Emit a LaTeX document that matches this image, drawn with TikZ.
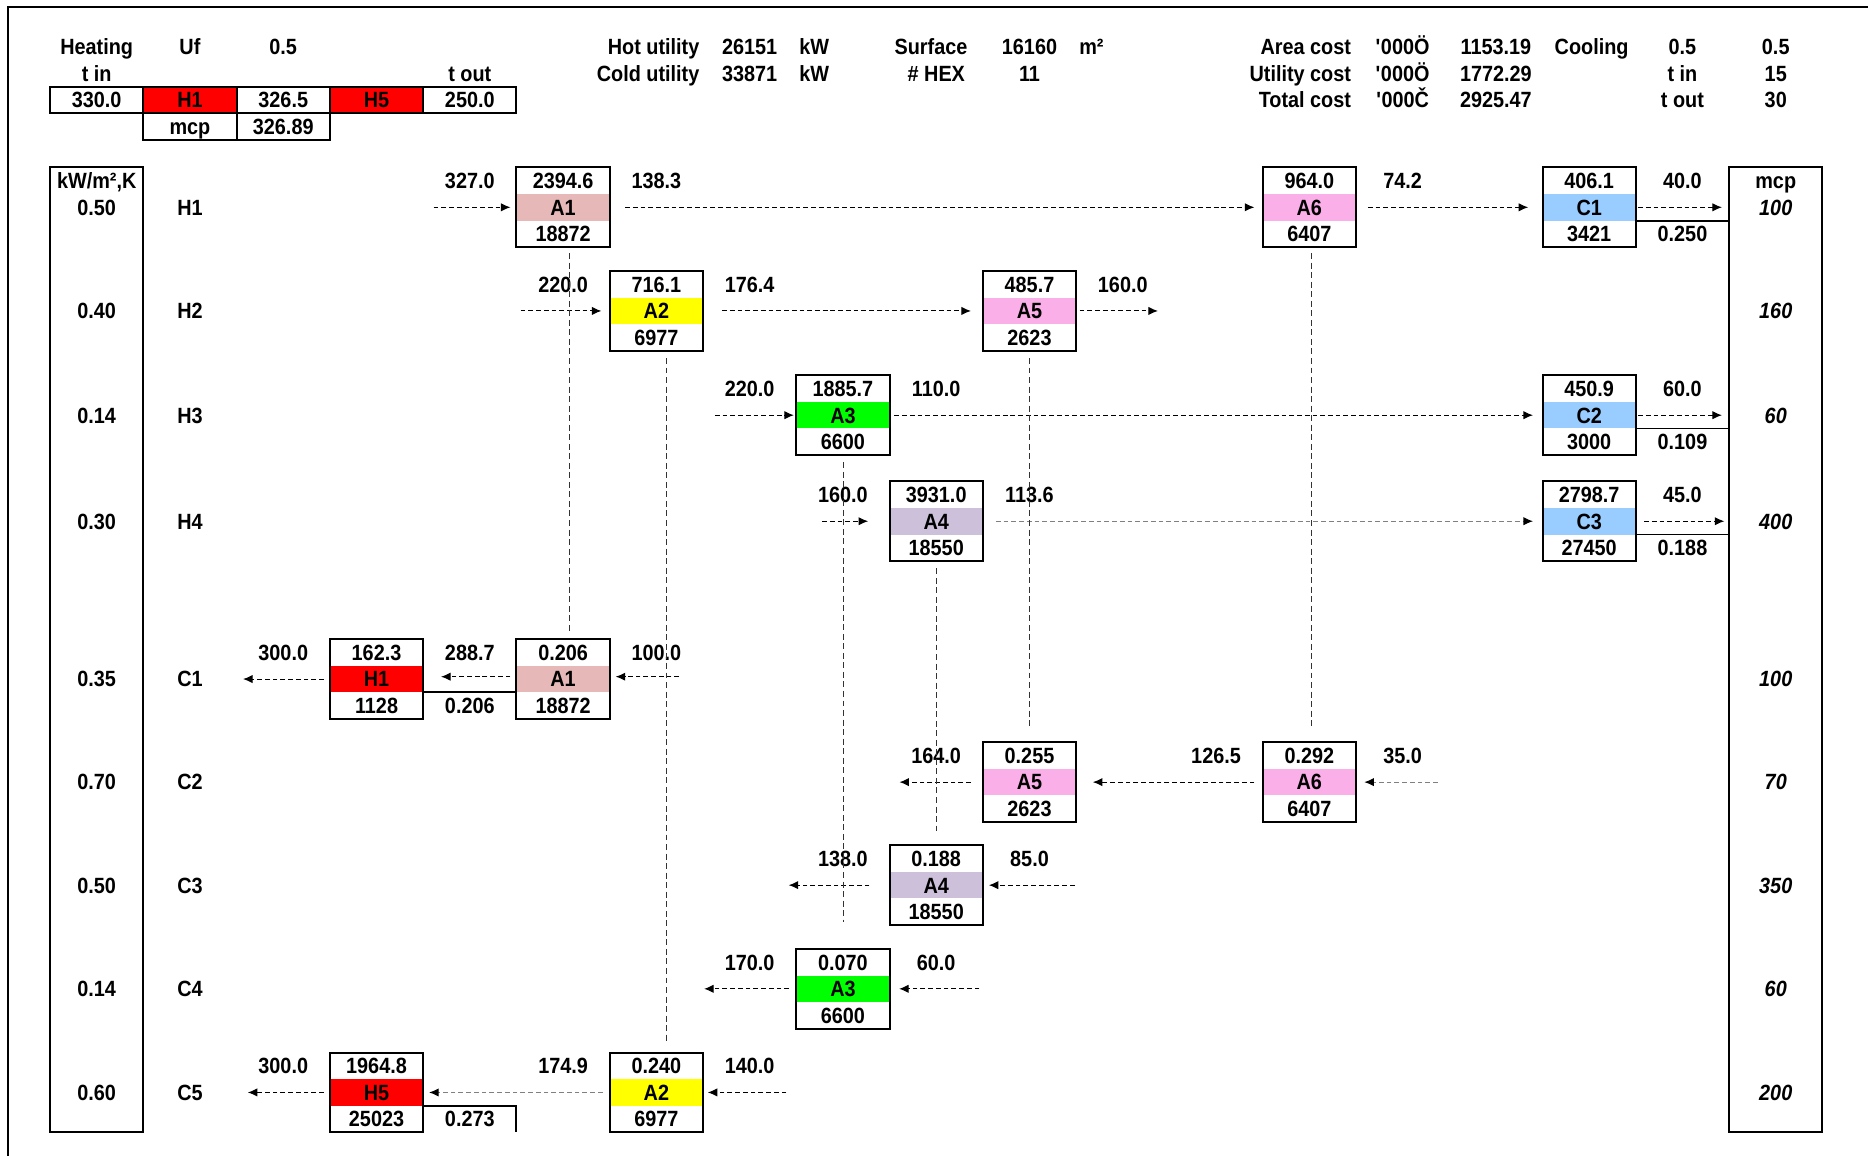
\documentclass[tikz,border=0pt]{standalone}
\usepackage{fontspec}
\setmainfont{Liberation Sans}[FakeStretch=0.9]
\usetikzlibrary{arrows.meta,calc}
\definecolor{cA1}{RGB}{230,184,183}
\definecolor{cA2}{RGB}{255,255,0}
\definecolor{cA3}{RGB}{0,255,0}
\definecolor{cA4}{RGB}{204,192,218}
\definecolor{cA5}{RGB}{250,175,232}
\definecolor{cC}{RGB}{153,204,255}
\definecolor{cH}{RGB}{255,0,0}
\tikzset{
 lbl/.style={font=\fontsize{18.5}{18.5}\selectfont\bfseries, inner sep=0pt, outer sep=0pt, text height=13.2pt, text depth=0pt},
 ilbl/.style={lbl, font=\fontsize{18.5}{18.5}\selectfont\bfseries\itshape},
 hxb/.style={draw, line width=1.6pt, minimum width=78.3pt, minimum height=67pt, inner sep=0pt, outer sep=0pt},
 cell/.style={lbl, draw, line width=1.6pt, minimum width=78.3pt, minimum height=22.3pt},
 colbox/.style={draw, line width=1.6pt, minimum width=78.3pt, minimum height=810pt, inner sep=0pt, outer sep=0pt},
 flow/.style={dash pattern=on 4pt off 2.5pt, line width=0.9pt, -{Latex[length=8pt,width=7pt]}},
 gflow/.style={dash pattern=on 4pt off 2.5pt, line width=0.9pt, draw=black!50, -{Latex[length=8pt,width=7pt,color=black]}},
 link/.style={dash pattern=on 5pt off 3pt, line width=0.6pt, draw=black!80},
 solidl/.style={line width=1.6pt},
}
\newcommand\exch[7]{%
  \fill[#7] ({#2-39.15},{#3-11.15}) rectangle ({#2+39.15},{#3+11.15});
  \node[hxb] (#1) at (#2,#3) {};
  \node[lbl] (#1t) at (#2,{#3-22.3}) {#4};
  \node[lbl] (#1m) at (#2,#3) {#5};
  \node[lbl] (#1b) at (#2,{#3+22.3}) {#6};
}
\begin{document}
\begin{tikzpicture}[x=1pt,y=-1pt]
\useasboundingbox (0,0) rectangle (1568,970);
\draw[line width=1.7pt] (6.5,975) -- (6.5,6) -- (1575,6);

% ---------- header ----------
\node[lbl] (hHeat) at (81.15,39) {Heating};
\node[lbl] (hUf) at (159.45,39) {Uf};
\node[lbl] (hUfv) at (237.75,39) {0.5};
\node[lbl] (hTin) at (81.15,61.5) {t in};
\node[lbl] (hTout) at (394.35,61.5) {t out};
\node[cell] (hc1) at (81.15,84) {330.0};
\node[cell, fill=cH] (hc2) at (159.45,84) {H1};
\node[cell] (hc3) at (237.75,84) {326.5};
\node[cell, fill=cH] (hc4) at (316.05,84) {H5};
\node[cell] (hc5) at (394.35,84) {250.0};
\node[cell] (hc6) at (159.45,106.3) {mcp};
\node[cell] (hc7) at (237.75,106.3) {326.89};

\node[lbl, anchor=east] (hHot) at (587,39) {Hot utility};
\node[lbl, anchor=east] (hCold) at (587,61.5) {Cold utility};
\node[lbl] (hHotv) at (629.25,39) {26151};
\node[lbl] (hColdv) at (629.25,61.5) {33871};
\node[lbl, anchor=west] (hkw1) at (671,39) {kW};
\node[lbl, anchor=west] (hkw2) at (671,61.5) {kW};
\node[lbl, anchor=east] (hSurf) at (812,39) {Surface};
\node[lbl, anchor=east] (hHex) at (810,61.5) {\# HEX};
\node[lbl] (hSurfv) at (864.15,39) {16160};
\node[lbl] (hHexv) at (864.15,61.5) {11};
\node[lbl, anchor=west] (hm2) at (906,39) {m²};
\node[lbl, anchor=east] (hArea) at (1134,39) {Area cost};
\node[lbl, anchor=east] (hUtil) at (1134,61.5) {Utility cost};
\node[lbl, anchor=east] (hTot) at (1134,84) {Total cost};
\node[lbl] (hu1) at (1177.35,39) {\textquotesingle 000Ö};
\node[lbl] (hu2) at (1177.35,61.5) {\textquotesingle 000Ö};
\node[lbl] (hu3) at (1177.35,84) {\textquotesingle 000Č};
\node[lbl] (hAreav) at (1255.65,39) {1153.19};
\node[lbl] (hUtilv) at (1255.65,61.5) {1772.29};
\node[lbl] (hTotv) at (1255.65,84) {2925.47};
\node[lbl] (hCool) at (1336,39) {Cooling};
\node[lbl] (hCo1) at (1412.25,39) {0.5};
\node[lbl] (hCo2) at (1412.25,61.5) {t in};
\node[lbl] (hCo3) at (1412.25,84) {t out};
\node[lbl] (hCo4) at (1490.55,39) {0.5};
\node[lbl] (hCo5) at (1490.55,61.5) {15};
\node[lbl] (hCo6) at (1490.55,84) {30};

% ---------- side columns ----------
\node[colbox] (lcol) at (81.15,545) {};
\node[colbox] (rcol) at (1490.55,545) {};
\node[lbl] (lhead) at (81.15,151.7) {kW/m²,K};
\node[lbl] (rhead) at (1490.55,151.7) {mcp};
\foreach \n/\yy/\u/\m in {H1/174/0.50/100, H2/261/0.40/160, H3/348.5/0.14/60, H4/437.5/0.30/400,
  C1/570/0.35/100, C2/656.5/0.70/70, C3/743/0.50/350, C4/830/0.14/60, C5/917/0.60/200}{
  \node[lbl] (u\n) at (81.15,\yy) {\u};
  \node[lbl] (s\n) at (159.45,\yy) {\n};
  \node[ilbl] (m\n) at (1490.55,\yy) {\m};
}

% ---------- exchangers ----------
\exch{A1h}{472.65}{174}{2394.6}{A1}{18872}{cA1}
\exch{A6h}{1099.05}{174}{964.0}{A6}{6407}{cA5}
\exch{C1c}{1333.95}{174}{406.1}{C1}{3421}{cC}
\exch{A2h}{550.95}{261}{716.1}{A2}{6977}{cA2}
\exch{A5h}{864.15}{261}{485.7}{A5}{2623}{cA5}
\exch{A3h}{707.55}{348.5}{1885.7}{A3}{6600}{cA3}
\exch{C2c}{1333.95}{348.5}{450.9}{C2}{3000}{cC}
\exch{A4h}{785.85}{437.5}{3931.0}{A4}{18550}{cA4}
\exch{C3c}{1333.95}{437.5}{2798.7}{C3}{27450}{cC}
\exch{H1c}{316.05}{570}{162.3}{H1}{1128}{cH}
\exch{A1c}{472.65}{570}{0.206}{A1}{18872}{cA1}
\exch{A5c}{864.15}{656.5}{0.255}{A5}{2623}{cA5}
\exch{A6c}{1099.05}{656.5}{0.292}{A6}{6407}{cA5}
\exch{A4c}{785.85}{743}{0.188}{A4}{18550}{cA4}
\exch{A3c}{707.55}{830}{0.070}{A3}{6600}{cA3}
\exch{H5c}{316.05}{917}{1964.8}{H5}{25023}{cH}
\exch{A2c}{550.95}{917}{0.240}{A2}{6977}{cA2}

% ---------- temperature labels ----------
\node[lbl] (t1) at (394.35,151.7) {327.0};
\node[lbl] (t2) at (550.95,151.7) {138.3};
\node[lbl] (t3) at (1177.35,151.7) {74.2};
\node[lbl] (t4) at (1412.25,151.7) {40.0};
\node[lbl] (t5) at (1412.25,196.3) {0.250};
\node[lbl] (t6) at (472.65,238.7) {220.0};
\node[lbl] (t7) at (629.25,238.7) {176.4};
\node[lbl] (t8) at (942.45,238.7) {160.0};
\node[lbl] (t9) at (629.25,326.2) {220.0};
\node[lbl] (t10) at (785.85,326.2) {110.0};
\node[lbl] (t11) at (1412.25,326.2) {60.0};
\node[lbl] (t12) at (1412.25,370.8) {0.109};
\node[lbl] (t13) at (707.55,415.2) {160.0};
\node[lbl] (t14) at (864.15,415.2) {113.6};
\node[lbl] (t15) at (1412.25,415.2) {45.0};
\node[lbl] (t16) at (1412.25,459.8) {0.188};
\node[lbl] (t17) at (237.75,547.7) {300.0};
\node[lbl] (t18) at (394.35,547.7) {288.7};
\node[lbl] (t19) at (550.95,547.7) {100.0};
\node[lbl] (t20) at (394.35,592.3) {0.206};
\node[lbl] (t21) at (785.85,634.2) {164.0};
\node[lbl] (t22) at (1020.75,634.2) {126.5};
\node[lbl] (t23) at (1177.35,634.2) {35.0};
\node[lbl] (t24) at (707.55,720.7) {138.0};
\node[lbl] (t25) at (864.15,720.7) {85.0};
\node[lbl] (t26) at (629.25,807.7) {170.0};
\node[lbl] (t27) at (785.85,807.7) {60.0};
\node[lbl] (t28) at (237.75,894.7) {300.0};
\node[lbl] (t29) at (472.65,894.7) {174.9};
\node[lbl] (t30) at (629.25,894.7) {140.0};
\node[lbl] (t31) at (394.35,939.3) {0.273};

% ---------- hot stream flows ----------
\coordinate (f1) at (364,174);
\draw[flow, shorten >=5pt] (f1) -- (A1h.west);
\draw[flow, shorten <=13pt, shorten >=7pt] (A1h.east) -- (A6h.west);
\draw[flow, shorten <=10pt, shorten >=12pt] (A6h.east) -- (C1c.west);
\draw[flow, shorten <=2pt, shorten >=6pt] (C1c.east) -- (C1c.east -| rcol.west);
\coordinate (f2) at (437,261);
\draw[flow, shorten >=7pt] (f2) -- (A2h.west);
\draw[flow, shorten <=16pt, shorten >=10pt] (A2h.east) -- (A5h.west);
\coordinate (f3) at (972,261);
\draw[flow, shorten <=3pt] (A5h.east) -- (f3);
\coordinate (f4) at (600,348.5);
\draw[flow, shorten >=2pt] (f4) -- (A3h.west);
\draw[flow, shorten <=4pt, shorten >=8pt] (A3h.east) -- (C2c.west);
\draw[flow, shorten <=2pt, shorten >=6pt] (C2c.east) -- (C2c.east -| rcol.west);
\coordinate (f5) at (690,437.5);
\draw[flow, shorten >=18pt] (f5) -- (A4h.west);
\draw[gflow, shorten <=11pt, shorten >=8pt] (A4h.east) -- (C3c.west);
\draw[flow, shorten <=7pt, shorten >=4pt] (C3c.east) -- (C3c.east -| rcol.west);

% ---------- cold stream flows ----------
\coordinate (f6) at (570,568);
\draw[flow, shorten >=5pt] (f6) -- (f6 -| A1c.east);
\draw[flow, shorten <=5pt, shorten >=15pt] (A1c.west |- f6) -- (f6 -| H1c.east);
\coordinate (f7) at (204,570);
\draw[flow, shorten <=5pt] (H1c.west) -- (f7);
\coordinate (f8) at (1207,656.5);
\draw[gflow, shorten >=7pt] (f8) -- (A6c.east);
\draw[flow, shorten <=7pt, shorten >=14pt] (A6c.west) -- (A5c.east);
\coordinate (f9) at (755,656.5);
\draw[flow, shorten <=10pt] (A5c.west) -- (f9);
\coordinate (f10) at (902,743);
\draw[flow, shorten >=5pt] (f10) -- (A4c.east);
\coordinate (f11) at (662,743);
\draw[flow, shorten <=17pt] (A4c.west) -- (f11);
\coordinate (f12) at (822,830);
\draw[flow, shorten >=8pt] (f12) -- (A3c.east);
\coordinate (f13) at (591,830);
\draw[flow, shorten <=6pt] (A3c.west) -- (f13);
\coordinate (f14) at (660,917);
\draw[flow, shorten >=4pt] (f14) -- (A2c.east);
\draw[gflow, shorten <=6pt, shorten >=5pt] (A2c.west) -- (H5c.east);
\coordinate (f15) at (208,917);
\draw[flow, shorten <=5pt] (H5c.west) -- (f15);

% ---------- exchanger links ----------
\draw[link, shorten <=5pt, shorten >=7pt] ([xshift=5.5pt]A1h.south) -- ([xshift=5.5pt]A1c.north);
\draw[link, shorten <=6pt, shorten >=8pt] ([xshift=8pt]A2h.south) -- ([xshift=8pt]A2c.north);
\draw[link, shorten <=6pt, shorten >=23pt] (A3h.south) -- (A3c.north);
\draw[link, shorten <=6pt, shorten >=12pt] (A4h.south) -- (A4c.north);
\draw[link, shorten <=6pt, shorten >=11pt] (A5h.south) -- (A5c.north);
\draw[link, shorten <=5pt, shorten >=11pt] ([xshift=1.5pt]A6h.south) -- ([xshift=1.5pt]A6c.north);

% ---------- solid links ----------
\coordinate (s1) at ($(C1c.east)+(0,11.15)$);
\draw[solidl] (s1) -- (s1 -| rcol.west);
\coordinate (s2) at ($(C2c.east)+(0,11.15)$);
\draw[solidl] (s2) -- (s2 -| rcol.west);
\coordinate (s3) at ($(C3c.east)+(0,11.15)$);
\draw[solidl] (s3) -- (s3 -| rcol.west);
\coordinate (s4) at ($(H1c.east)+(0,11.15)$);
\draw[solidl] (s4) -- (s4 -| A1c.west);
\coordinate (s5) at ($(H5c.east)+(0,11.15)$);
\coordinate (s6) at ($(s5)+(78.3,0)$);
\draw[solidl] (s5) -- (s6) -- (s6 |- H5c.south);
\end{tikzpicture}
\end{document}
